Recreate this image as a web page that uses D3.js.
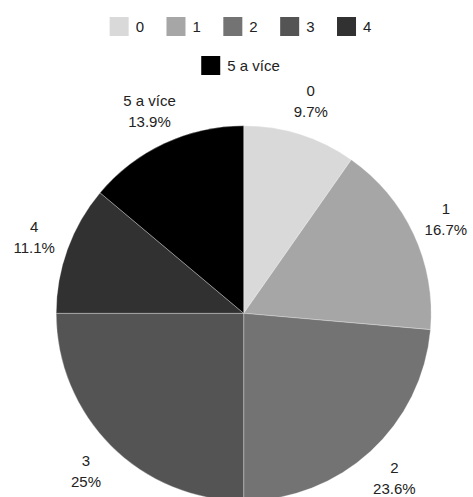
<html>
  <head>
    <script src="https://cdnjs.cloudflare.com/ajax/libs/d3/7.8.5/d3.min.js"></script>
    <style>
      body { margin: 0; background: #fff; }
      svg { display: block; }
      text { font-family: "Liberation Sans", Arial, sans-serif; fill: #222; }
    </style>
  </head>
  <body>
    <svg></svg>
    <script>
      // answers (counts), total 72
      const categories = ["0", "1", "2", "3", "4", "5 a více"];
      const counts = [7, 12, 17, 18, 8, 10];
      const colors = ["#d9d9d9", "#a6a6a6", "#737373", "#545454", "#313131", "#000000"];

      const width = 473, height = 497;
      const cx = 243.7, cy = 313.3, radius = 187.5;
      const labelRadius = 223;

      const svg = d3.select("svg").attr("width", width).attr("height", height);
      const total = d3.sum(counts);
      const data = categories.map((c, i) => ({ name: c, value: counts[i] }));

      const color = d3.scaleOrdinal().domain(categories).range(colors);
      const pie = d3.pie().value(d => d.value).sort(null);
      const arc = d3.arc().innerRadius(0).outerRadius(radius);
      const labelArc = d3.arc().innerRadius(labelRadius).outerRadius(labelRadius);
      const pct = d3.format(".1~f");

      const g = svg.append("g").attr("transform", `translate(${cx},${cy})`);
      const arcs = pie(data);

      g.selectAll("path")
        .data(arcs)
        .join("path")
        .attr("d", arc)
        .attr("fill", d => color(d.data.name))
        .attr("stroke", "#fff")
        .attr("stroke-width", 0.3);

      const labels = g.selectAll("text.lbl")
        .data(arcs)
        .join("text")
        .attr("class", "lbl")
        .attr("text-anchor", "middle")
        .attr("font-size", 15)
        .attr("transform", d => `translate(${labelArc.centroid(d)})`);
      labels.append("tspan").attr("x", 0).attr("y", -5).text(d => d.data.name);
      labels.append("tspan").attr("x", 0).attr("y", 16)
        .text(d => pct(d.data.value / total * 100) + "%");

      // legend: two centred rows
      const rows = [categories.slice(0, 5), categories.slice(5)];
      const sw = 19, legendX = 240.5;
      rows.forEach((row, r) => {
        const lg = svg.append("g");
        let x = 0;
        row.forEach(name => {
          const item = lg.append("g").attr("transform", `translate(${x},0)`);
          item.append("rect").attr("width", sw).attr("height", sw)
            .attr("fill", color(name));
          const t = item.append("text").attr("x", sw + 7).attr("y", sw / 2 + 5.5)
            .attr("font-size", 15).text(name);
          x += sw + 7 + t.node().getComputedTextLength() + 22.5;
        });
        const w = lg.node().getBBox().width;
        lg.attr("transform", `translate(${legendX - w / 2},${17 + r * 39})`);
      });
    </script>
  </body>
</html>
